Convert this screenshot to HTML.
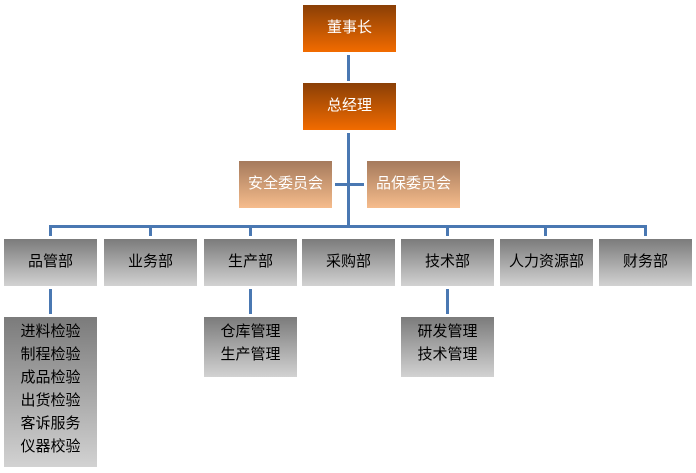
<!DOCTYPE html>
<html><head><meta charset="utf-8"><style>
body{margin:0;width:696px;height:473px;background:#fff;position:relative;overflow:hidden;font-family:"Liberation Sans","WenQuanYi Zen Hei","Noto Sans CJK SC",sans-serif;}
.b{position:absolute;display:flex;align-items:center;justify-content:center;font-size:15px;text-align:center;box-sizing:border-box;padding-bottom:4px;}
.o{background:linear-gradient(#8a3f06,#f26b00);color:#fff;}
.c{background:linear-gradient(#a57a5c,#f6bc8c);color:#fff;}
.g{background:linear-gradient(#7b7b7b,#d2d2d2);color:#000;}
.l{position:absolute;background:#4a78b2;}
.s{flex-direction:column;justify-content:flex-start;padding-top:3px;padding-bottom:0;line-height:23px;}
</style></head><body>
<div class="l" style="left:347px;top:55px;width:3px;height:26px"></div>
<div class="l" style="left:347px;top:133px;width:3px;height:94px"></div>
<div class="l" style="left:335px;top:183px;width:29px;height:3px"></div>
<div class="l" style="left:49px;top:225px;width:598px;height:3px"></div>
<div class="l" style="left:49px;top:225px;width:3px;height:11px"></div>
<div class="l" style="left:149px;top:225px;width:3px;height:11px"></div>
<div class="l" style="left:249px;top:225px;width:3px;height:11px"></div>
<div class="l" style="left:446px;top:225px;width:3px;height:11px"></div>
<div class="l" style="left:544px;top:225px;width:3px;height:11px"></div>
<div class="l" style="left:644px;top:225px;width:3px;height:11px"></div>
<div class="l" style="left:49px;top:289px;width:3px;height:25px"></div>
<div class="l" style="left:249px;top:289px;width:3px;height:25px"></div>
<div class="l" style="left:446px;top:289px;width:3px;height:25px"></div>
<div class="b o" style="left:303px;top:5px;width:93px;height:47px">董事长</div>
<div class="b o" style="left:303px;top:83px;width:93px;height:47px">总经理</div>
<div class="b c" style="left:239px;top:161px;width:93px;height:47px">安全委员会</div>
<div class="b c" style="left:367px;top:161px;width:93px;height:47px">品保委员会</div>
<div class="b g" style="left:4px;top:239px;width:93px;height:47px">品管部</div>
<div class="b g" style="left:104px;top:239px;width:93px;height:47px">业务部</div>
<div class="b g" style="left:204px;top:239px;width:93px;height:47px">生产部</div>
<div class="b g" style="left:302px;top:239px;width:93px;height:47px">采购部</div>
<div class="b g" style="left:401px;top:239px;width:93px;height:47px">技术部</div>
<div class="b g" style="left:500px;top:239px;width:93px;height:47px">人力资源部</div>
<div class="b g" style="left:599px;top:239px;width:93px;height:47px">财务部</div>
<div class="b g s" style="left:4px;top:317px;width:93px;height:150px"><div>进料检验</div><div>制程检验</div><div>成品检验</div><div>出货检验</div><div>客诉服务</div><div>仪器校验</div></div>
<div class="b g s" style="left:204px;top:317px;width:93px;height:60px"><div>仓库管理</div><div>生产管理</div></div>
<div class="b g s" style="left:401px;top:317px;width:93px;height:60px"><div>研发管理</div><div>技术管理</div></div>
</body></html>
